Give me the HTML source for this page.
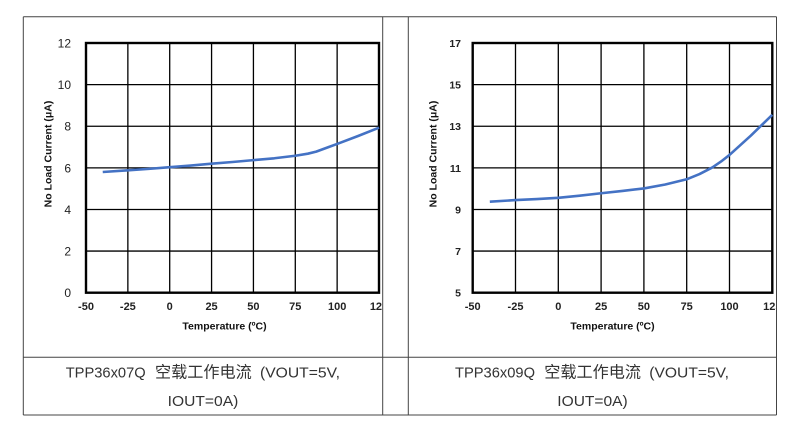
<!DOCTYPE html>
<html>
<head>
<meta charset="utf-8">
<style>
html,body{margin:0;padding:0;background:#fff;}
svg{display:block;}
.yt1{font-family:"Liberation Sans",Arial,sans-serif;font-size:12px;fill:#222;text-anchor:end;}
.yt2{font-family:"Liberation Sans",Arial,sans-serif;font-size:10.5px;font-weight:bold;fill:#222;text-anchor:end;}
.xt{font-family:"Liberation Sans",Arial,sans-serif;font-size:11px;font-weight:bold;fill:#222;text-anchor:middle;}
.ttl{font-family:"Liberation Sans",Arial,sans-serif;font-size:10.5px;font-weight:bold;fill:#111;text-anchor:middle;}
.cap{font-family:"Liberation Sans","Noto Sans CJK SC",sans-serif;font-size:15px;fill:#333;}
.capc{font-family:"Liberation Sans","Noto Sans CJK SC",sans-serif;font-size:16px;fill:#333;}
</style>
</head>
<body>
<svg width="800" height="432" viewBox="0 0 800 432" xmlns="http://www.w3.org/2000/svg">
<defs>
<clipPath id="c1"><rect x="0" y="0" width="382.3" height="432"/></clipPath>
<clipPath id="c2"><rect x="408" y="0" width="368" height="432"/></clipPath>
</defs>

<!-- table lines -->
<g stroke="#444" stroke-width="1" fill="none">
<line x1="23.3" y1="16.7" x2="776.5" y2="16.7"/>
<line x1="23.3" y1="357.3" x2="776.5" y2="357.3"/>
<line x1="23.3" y1="415" x2="776.5" y2="415"/>
<line x1="23.3" y1="16.7" x2="23.3" y2="415"/>
<line x1="382.7" y1="16.7" x2="382.7" y2="415"/>
<line x1="408.3" y1="16.7" x2="408.3" y2="415"/>
<line x1="776.5" y1="16.7" x2="776.5" y2="415"/>
</g>

<!-- Chart 1 -->
<g stroke="#000" stroke-width="1.3" fill="none">
<line x1="127.86" y1="43" x2="127.86" y2="292.7"/>
<line x1="169.71" y1="43" x2="169.71" y2="292.7"/>
<line x1="211.57" y1="43" x2="211.57" y2="292.7"/>
<line x1="253.43" y1="43" x2="253.43" y2="292.7"/>
<line x1="295.29" y1="43" x2="295.29" y2="292.7"/>
<line x1="337.14" y1="43" x2="337.14" y2="292.7"/>
<line x1="86" y1="84.62" x2="379" y2="84.62"/>
<line x1="86" y1="126.23" x2="379" y2="126.23"/>
<line x1="86" y1="167.85" x2="379" y2="167.85"/>
<line x1="86" y1="209.47" x2="379" y2="209.47"/>
<line x1="86" y1="251.08" x2="379" y2="251.08"/>
</g>
<rect x="86" y="43" width="293" height="249.7" fill="none" stroke="#000" stroke-width="2.4"/>
<polyline fill="none" stroke="#4472C4" stroke-width="2.6" stroke-linejoin="round" stroke-linecap="butt"
points="102.74,172.00 127.86,170.34 148.79,168.88 169.72,167.22 190.64,165.55 211.57,163.68 232.50,162.01 253.43,160.14 274.36,158.27 295.29,155.77 307.84,153.69 316.22,151.61 328.77,147.03 337.15,143.91 358.07,136.00 379.0,127.68"/>
<g class="yt1">
<text x="71" y="47.5">12</text>
<text x="71" y="89.1">10</text>
<text x="71" y="130.7">8</text>
<text x="71" y="172.4">6</text>
<text x="71" y="214">4</text>
<text x="71" y="255.6">2</text>
<text x="71" y="297.2">0</text>
</g>
<g class="xt" clip-path="url(#c1)">
<text x="86" y="310">-50</text>
<text x="127.86" y="310">-25</text>
<text x="169.71" y="310">0</text>
<text x="211.57" y="310">25</text>
<text x="253.43" y="310">50</text>
<text x="295.29" y="310">75</text>
<text x="337.14" y="310">100</text>
<text x="379" y="310">125</text>
</g>
<text class="ttl" x="224.5" y="329.5">Temperature (ºC)</text>
<text class="ttl" transform="translate(51.5,154) rotate(-90)">No Load Current (μA)</text>

<!-- Chart 2 -->
<g stroke="#000" stroke-width="1.3" fill="none">
<line x1="515.5" y1="43" x2="515.5" y2="292.7"/>
<line x1="558.3" y1="43" x2="558.3" y2="292.7"/>
<line x1="601.1" y1="43" x2="601.1" y2="292.7"/>
<line x1="643.9" y1="43" x2="643.9" y2="292.7"/>
<line x1="686.7" y1="43" x2="686.7" y2="292.7"/>
<line x1="729.5" y1="43" x2="729.5" y2="292.7"/>
<line x1="472.7" y1="84.62" x2="772.3" y2="84.62"/>
<line x1="472.7" y1="126.23" x2="772.3" y2="126.23"/>
<line x1="472.7" y1="167.85" x2="772.3" y2="167.85"/>
<line x1="472.7" y1="209.47" x2="772.3" y2="209.47"/>
<line x1="472.7" y1="251.08" x2="772.3" y2="251.08"/>
</g>
<rect x="472.7" y="43" width="299.6" height="249.7" fill="none" stroke="#000" stroke-width="2.4"/>
<polyline fill="none" stroke="#4472C4" stroke-width="2.6" stroke-linejoin="round" stroke-linecap="butt"
points="489.82,201.66 515.50,200.10 536.90,199.05 558.30,197.81 579.70,195.73 601.10,193.23 622.50,190.94 643.90,188.44 665.30,184.49 686.70,179.29 699.54,174.08 712.38,167.42 720.94,161.60 729.50,154.94 750.90,135.58 772.30,114.77"/>
<g class="yt2">
<text x="461" y="47">17</text>
<text x="461" y="88.6">15</text>
<text x="461" y="130.2">13</text>
<text x="461" y="171.9">11</text>
<text x="461" y="213.5">9</text>
<text x="461" y="255.1">7</text>
<text x="461" y="296.7">5</text>
</g>
<g class="xt" clip-path="url(#c2)">
<text x="472.7" y="310">-50</text>
<text x="515.5" y="310">-25</text>
<text x="558.3" y="310">0</text>
<text x="601.1" y="310">25</text>
<text x="643.9" y="310">50</text>
<text x="686.7" y="310">75</text>
<text x="729.5" y="310">100</text>
<text x="772.3" y="310">125</text>
</g>
<text class="ttl" x="612.5" y="329.5">Temperature (ºC)</text>
<text class="ttl" transform="translate(436.3,154) rotate(-90)">No Load Current (μA)</text>

<!-- Captions -->
<text class="cap" x="65.7" y="377.5" textLength="80" lengthAdjust="spacingAndGlyphs">TPP36x07Q</text>
<text class="capc" x="155" y="377.5" textLength="96.7" lengthAdjust="spacingAndGlyphs">空载工作电流</text>
<text class="cap" x="260" y="377.5" textLength="80" lengthAdjust="spacingAndGlyphs">(VOUT=5V,</text>
<text class="cap" x="167.7" y="406" textLength="70.6" lengthAdjust="spacingAndGlyphs">IOUT=0A)</text>

<text class="cap" x="455" y="377.5" textLength="80" lengthAdjust="spacingAndGlyphs">TPP36x09Q</text>
<text class="capc" x="544.3" y="377.5" textLength="96.7" lengthAdjust="spacingAndGlyphs">空载工作电流</text>
<text class="cap" x="649.3" y="377.5" textLength="79.7" lengthAdjust="spacingAndGlyphs">(VOUT=5V,</text>
<text class="cap" x="557.3" y="406" textLength="70.4" lengthAdjust="spacingAndGlyphs">IOUT=0A)</text>
</svg>
</body>
</html>
